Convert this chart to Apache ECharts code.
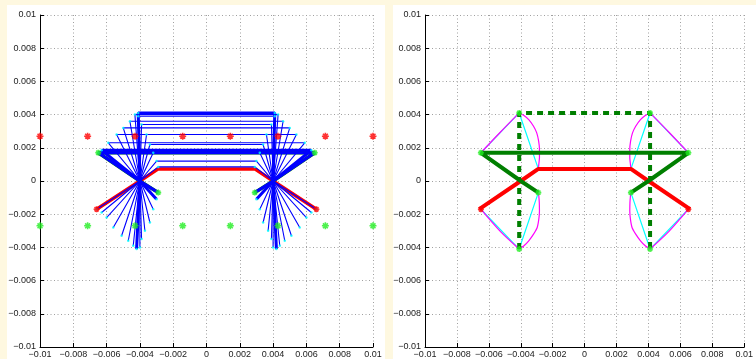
<!DOCTYPE html>
<html>
<head>
<meta charset="utf-8">
<script src="https://cdn.jsdelivr.net/npm/echarts@6/dist/echarts.min.js"></script>
<style>
  html, body { margin: 0; padding: 0; background: #fef8e0; }
  #wrap { position: relative; width: 756px; height: 359px; overflow: hidden; background: #fef8e0; }
  .panel { position: absolute; background: #ffffff; }
  #chart { position: absolute; left: 0; top: 0; width: 756px; height: 359px; }
</style>
</head>
<body>
<div id="wrap">
  <div class="panel" style="left:7px;top:5px;width:378px;height:354px;"></div>
  <div class="panel" style="left:393px;top:5px;width:363px;height:354px;"></div>
  <div id="chart"></div>
</div>
<script>
// ---------- axis settings ----------
const axisMin = -0.01, axisMax = 0.01, axisStep = 0.002;

// ---------- reference stars (left panel) ----------
const refStarX = [-0.01, -0.00714, -0.00429, -0.00143, 0.00143, 0.00429, 0.00714, 0.01];
const redStarY = [0.0027, 0.0027, 0.0027, 0.0027, 0.0027, 0.0027, 0.0027, 0.0027];
const greenStarY = [-0.0027, -0.0027, -0.0027, -0.0027, -0.0027, -0.0027, -0.0027, -0.0027];

// ---------- pivots ----------
const pivotLeft = [-0.0040, 0.0];
const pivotRight = [0.0040, 0.0];

// ---------- animation frames (left panel) ----------
const upperLeft = [[-0.0029,0.00085],[-0.0030,0.0012],[-0.0032,0.0017],[-0.0034,0.0022],[-0.0036,0.0028],[-0.0039,0.0034],[-0.0041,0.0039],[-0.0041,0.0041],[-0.0043,0.0040],[-0.0046,0.0036],[-0.0050,0.0032],[-0.0054,0.0028],[-0.0059,0.0023],[-0.0063,0.00185],[-0.0065,0.0017]];
const lowerLeft = [[-0.0066,-0.0017],[-0.0063,-0.0019],[-0.0060,-0.0022],[-0.0056,-0.0028],[-0.0051,-0.0033],[-0.0047,-0.0036],[-0.0044,-0.0039],[-0.0042,-0.0041],[-0.0040,-0.0040],[-0.0039,-0.0035],[-0.0037,-0.0030],[-0.0034,-0.0025],[-0.0032,-0.0017],[-0.0030,-0.0011],[-0.0029,-0.0007]];
const upperRight = [[0.0029,0.00085],[0.0030,0.0012],[0.0032,0.0017],[0.0034,0.0022],[0.0036,0.0028],[0.0039,0.0034],[0.0041,0.0039],[0.0041,0.0041],[0.0043,0.0040],[0.0046,0.0036],[0.0050,0.0032],[0.0054,0.0028],[0.0059,0.0023],[0.0063,0.00185],[0.0065,0.0017]];
const lowerRight = [[0.0066,-0.0017],[0.0063,-0.0019],[0.0060,-0.0022],[0.0056,-0.0028],[0.0051,-0.0033],[0.0047,-0.0036],[0.0044,-0.0039],[0.0042,-0.0041],[0.0040,-0.0040],[0.0039,-0.0035],[0.0037,-0.0030],[0.0034,-0.0025],[0.0032,-0.0017],[0.0030,-0.0011],[0.0029,-0.0007]];
const thickFrames = [7, 13, 14];

// ---------- key configurations ----------
const redPath = [[-0.0066,-0.0017],[-0.0040,0.0],[-0.0029,0.00073],[0.0029,0.00073],[0.0040,0.0],[0.0066,-0.0017]];
const greenPath = [[-0.0029,-0.0007],[-0.0040,0.0],[-0.0065,0.0017],[0.0065,0.0017],[0.0040,0.0],[0.0029,-0.0007]];
const dashedPath = [[-0.0041,-0.0041],[-0.0041,0.0041],[0.0041,0.0041],[0.0041,-0.0041]];

// ---------- right panel chords & loci ----------
const cyanUL = [[-0.0065,0.0017],[-0.0041,0.0041],[-0.0029,0.00073]];
const cyanLL = [[-0.0065,-0.0017],[-0.0041,-0.0041],[-0.0029,-0.0007]];
const cyanUR = [[0.0065,0.0017],[0.0041,0.0041],[0.0029,0.00073]];
const cyanLR = [[0.0065,-0.0017],[0.0041,-0.0041],[0.0029,-0.0007]];
const magULline = [[-0.0065,0.0017],[-0.0053,0.00292],[-0.0041,0.0041]];
const magULarc = [[-0.0041,0.0041],[-0.0038,0.00395],[-0.0035,0.0037],[-0.0032,0.0033],[-0.0030,0.0029],[-0.00288,0.0024],[-0.00283,0.0019],[-0.00283,0.0014],[-0.00287,0.0010],[-0.0029,0.00073]];
const magLLline = [[-0.0065,-0.0017],[-0.0053,-0.00302],[-0.0041,-0.0041]];
const magLLarc = [[-0.0041,-0.0041],[-0.0038,-0.0039],[-0.0035,-0.0036],[-0.0032,-0.0032],[-0.00297,-0.0028],[-0.00287,-0.0023],[-0.00283,-0.0018],[-0.00284,-0.0013],[-0.00287,-0.0009],[-0.0029,-0.0007]];
const magURline = [[0.0065,0.0017],[0.0053,0.00292],[0.0041,0.0041]];
const magURarc = [[0.0041,0.0041],[0.0038,0.00395],[0.0035,0.0037],[0.0032,0.0033],[0.0030,0.0029],[0.00288,0.0024],[0.00283,0.0019],[0.00283,0.0014],[0.00287,0.0010],[0.0029,0.00073]];
const magLRline = [[0.0065,-0.0017],[0.0053,-0.00302],[0.0041,-0.0041]];
const magLRarc = [[0.0041,-0.0041],[0.0038,-0.0039],[0.0035,-0.0036],[0.0032,-0.0032],[0.00297,-0.0028],[0.00287,-0.0023],[0.00283,-0.0018],[0.00284,-0.0013],[0.00287,-0.0009],[0.0029,-0.0007]];

// ---------- star markers ----------
const greenMarksLeft = [[-0.0065,0.0017],[-0.0029,-0.0007],[0.0065,0.0017],[0.0029,-0.0007]];
const redMarksLeft = [[-0.0066,-0.0017],[0.0066,-0.0017]];
const greenMarksRight = [[-0.0041,0.0041],[-0.0065,0.0017],[-0.0029,-0.0007],[-0.0041,-0.0041],[0.0041,0.0041],[0.0065,0.0017],[0.0029,-0.0007],[0.0041,-0.0041]];
const redMarksRight = [[-0.0065,-0.0017],[0.0065,-0.0017]];

// ---------- colours ----------
const C = { red: '#ff0000', dgreen: '#007f00', lgreen: '#22ee22', blue: '#0000ff', cyan: '#00ffff', mag: '#ff00ff' };
const STAR = 'path://M10,0L10,20M0,10L20,10M3,3L17,17M3,17L17,3';

function fmt(v) {
  let r = Math.round(v * 1000) / 1000;
  if (Math.abs(r) < 1e-12) return '0';
  return String(r).replace('-', '\u2212');
}

function axes(idx) {
  const common = {
    type: 'value', min: axisMin, max: axisMax, interval: axisStep, gridIndex: idx,
    axisLine: { show: true, onZero: false, lineStyle: { color: '#000', width: 1 } },
    axisTick: { show: true, inside: true, length: 4, lineStyle: { color: '#000' } },
    axisLabel: { show: true, formatter: fmt, fontFamily: 'Liberation Sans', fontSize: 9, color: '#222', showMinLabel: true, showMaxLabel: true },
    splitLine: { show: true, lineStyle: { color: '#a0a0a0', width: 1, type: [1, 2.5] } }
  };
  return {
    x: Object.assign({}, common, { axisLabel: Object.assign({}, common.axisLabel, { margin: 3 }) }),
    y: Object.assign({}, common, { axisLabel: Object.assign({}, common.axisLabel, { margin: 4 }) })
  };
}

function line(data, color, width, gi, extra) {
  return Object.assign({
    type: 'line', data: data, xAxisIndex: gi, yAxisIndex: gi,
    symbol: 'none', showSymbol: false, animation: false, silent: true,
    lineStyle: { color: color, width: width }, clip: false
  }, extra || {});
}
function stars(data, color, gi, size) {
  return {
    type: 'scatter', data: data, xAxisIndex: gi, yAxisIndex: gi, symbol: STAR,
    symbolSize: size || 7, silent: true, animation: false, clip: false,
    itemStyle: { color: 'rgba(0,0,0,0)', borderColor: color, borderWidth: 1.6 }, z: 5
  };
}

const a0 = axes(0), a1 = axes(1);
const series = [];

// ----- left panel -----
series.push(line(redPath, C.red, 3.5, 0));
series.push(line(greenPath, C.dgreen, 3.5, 0));
for (let k = 0; k < upperLeft.length; k++) {
  const w = thickFrames.indexOf(k) >= 0 ? 3 : 1.1;
  series.push(line([lowerLeft[k], pivotLeft, upperLeft[k], upperRight[k], pivotRight, lowerRight[k]], C.blue, w, 0));
}
const cyanDots = [].concat(upperLeft, lowerLeft, upperRight, lowerRight);
series.push({ type: 'scatter', data: cyanDots, xAxisIndex: 0, yAxisIndex: 0, symbol: 'circle', symbolSize: 2.5,
  silent: true, animation: false, itemStyle: { color: C.cyan }, z: 4 });
series.push(stars(refStarX.map((x, i) => [x, redStarY[i]]), C.red, 0));
series.push(stars(refStarX.map((x, i) => [x, greenStarY[i]]), C.lgreen, 0));
series.push(stars(greenMarksLeft, C.lgreen, 0, 6));
series.push(stars(redMarksLeft, C.red, 0, 6));

// ----- right panel -----
[cyanUL, cyanLL, cyanUR, cyanLR].forEach(d => series.push(line(d, C.cyan, 1.2, 1)));
[magULline, magLLline, magURline, magLRline].forEach(d => series.push(line(d, C.mag, 1.2, 1, { smooth: 0.3 })));
[magULarc, magLLarc, magURarc, magLRarc].forEach(d => series.push(line(d, C.mag, 1.2, 1, { smooth: 0.15 })));
series.push(line(dashedPath, C.dgreen, 4, 1, { lineStyle: { color: C.dgreen, width: 4, type: [6, 5] } }));
series.push(line(redPath, C.red, 4, 1));
series.push(line(greenPath, C.dgreen, 4, 1));
series.push(stars(greenMarksRight, C.lgreen, 1, 6));
series.push(stars(redMarksRight, C.red, 1, 6));

const chart = echarts.init(document.getElementById('chart'), null, { renderer: 'canvas' });
chart.setOption({
  backgroundColor: 'transparent',
  animation: false,
  grid: [
    { left: 40, top: 15, width: 333, height: 333, containLabel: false },
    { left: 425, top: 15, width: 333.4, height: 333, containLabel: false }
  ],
  xAxis: [a0.x, a1.x],
  yAxis: [a0.y, a1.y],
  series: series
});
</script>
</body>
</html>
